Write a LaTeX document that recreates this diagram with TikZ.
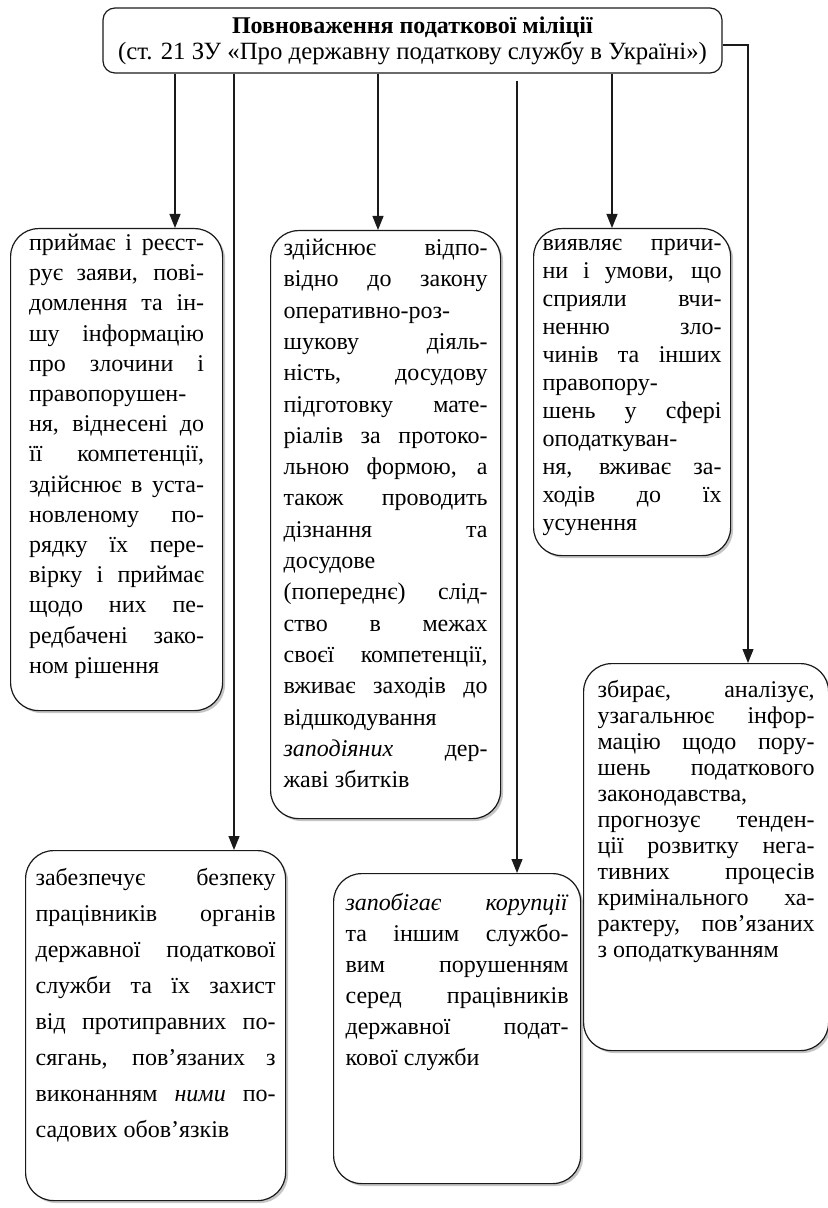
\documentclass[tikz,border=0pt]{standalone}
\usepackage{fontspec}
\setmainfont{Liberation Serif}
\usepackage{xcolor}
\usepackage{tikz}
\usetikzlibrary{arrows.meta, shadows}
\definecolor{InkBlack}{HTML}{1A1A1A}
\definecolor{ShadowGrey}{HTML}{8C8C8C}
\newcommand{\cardfont}[1]{\fontsize{12pt}{#1}\selectfont\tolerance=10000 \hyphenpenalty=10000 \exhyphenpenalty=10000\relax}

\begin{document}
\begin{tikzpicture}[x=0.5pt, y=-0.5pt, >={Triangle[length=7pt, width=5.5pt]}]
    \tikzstyle{head} = [rectangle, draw=InkBlack, line width=0.6pt, rounded corners=6pt, align=center, minimum width=309.5pt, minimum height=32.5pt, inner sep=0pt, font=\fontsize{12pt}{13pt}\selectfont]
    \tikzstyle{card} = [rectangle, draw=InkBlack, fill=white, line width=0.6pt, rounded corners=14pt, align=justify, anchor=north west, inner ysep=0pt, drop shadow={shadow xshift=1.2pt, shadow yshift=-1.2pt, fill=ShadowGrey}]
    \tikzstyle{line} = [draw, ->, line width=0.6pt, InkBlack]

    \useasboundingbox (0,0) rectangle (828,1208);

    \node [head] (title) at (412.5,40.5) {\textbf{Повноваження податкової міліції}\\{\fontsize{12.4pt}{13pt}\selectfont (ст. 21 ЗУ «Про державну податкову службу в Україні»)}};

    % upper row
    \node [card, font=\cardfont{15.1pt}, inner xsep=9.25pt, text width=87.5pt, text height=11pt, text depth=230pt] (reception) at (10,228) {приймає і реєст-\linebreak рує заяви, пові-\linebreak домлення та ін-\linebreak шу інформацію\linebreak про злочини і\linebreak правопорушен-\linebreak ня, віднесені до\linebreak її компетенції,\linebreak здійснює в уста-\linebreak новленому по-\linebreak рядку їх пере-\linebreak вірку і приймає\linebreak щодо них пе-\linebreak редбачені зако-\linebreak ном рішення};
    \node [card, font=\cardfont{15.65pt}, inner xsep=6.5pt, text width=102pt, text height=12.5pt, text depth=281.5pt] (search) at (270,230) {здійснює відпо-\linebreak відно до закону\linebreak оперативно-роз-\linebreak шукову діяль-\linebreak ність, досудову\linebreak підготовку мате-\linebreak ріалів за протоко-\linebreak льною формою, а\linebreak також проводить\linebreak дізнання та\linebreak досудове\linebreak (попереднє) слід-\linebreak ство в межах\linebreak своєї компетенції,\linebreak вживає заходів до\linebreak відшкодування\linebreak \textit{заподіяних} дер-\linebreak жаві збитків};
    \node [card, font=\cardfont{14pt}, inner xsep=4.5pt, text width=89.5pt, text height=11pt, text depth=152.5pt] (causes) at (533,228) {виявляє причи-\linebreak ни і умови, що\linebreak сприяли вчи-\linebreak ненню зло-\linebreak чинів та інших\linebreak правопору-\linebreak шень у сфері\linebreak оподаткуван-\linebreak ня, вживає за-\linebreak ходів до їх\linebreak усунення};

    % lower row
    \node [card, font=\cardfont{13pt}, inner xsep=7pt, text width=108.5pt, text height=17pt, text depth=176.5pt] (analysis) at (583,663) {збирає, аналізує,\linebreak узагальнює інфор-\linebreak мацію щодо пору-\linebreak шень податкового\linebreak законодавства,\linebreak прогнозує тенден-\linebreak ції розвитку нега-\linebreak тивних процесів\linebreak кримінального ха-\linebreak рактеру, пов'язаних\linebreak з оподаткуванням};
    \node [card, font=\cardfont{18pt}, inner xsep=5pt, text width=120pt, text height=17.5pt, text depth=157.5pt] (safety) at (25,850) {забезпечує безпеку\linebreak працівників органів\linebreak державної податкової\linebreak служби та їх захист\linebreak від протиправних по-\linebreak сягань, пов'язаних з\linebreak виконанням \textit{ними} по-\linebreak садових обов'язків};
    \node [card, font=\cardfont{15.5pt}, inner xsep=6pt, text width=111.5pt, text height=18.5pt, text depth=136.5pt] (corruption) at (333,873) {\textit{запобігає корупції}\linebreak та іншим службо-\linebreak вим порушенням\linebreak серед працівників\linebreak державної подат-\linebreak кової служби};

    % drop lines
    \coordinate (drop1) at (175,0);
    \coordinate (drop2) at (234,0);
    \coordinate (drop3) at (378,0);
    \coordinate (drop4) at (517,0);
    \coordinate (drop5) at (612,0);
    \coordinate (drop6) at (748,0);

    \path [line] (title.south -| drop1) -- (reception.north -| drop1);
    \path [line] (title.south -| drop2) -- (safety.north -| drop2);
    \path [line] (title.south -| drop3) -- (search.north -| drop3);
    \path [line] (title.south -| drop4) ++(0,7) -- (corruption.north -| drop4);
    \path [line] (title.south -| drop5) -- (causes.north -| drop5);
    \path [line] ([yshift=-2.25pt]title.east) -| (analysis.north -| drop6);
\end{tikzpicture}
\end{document}
